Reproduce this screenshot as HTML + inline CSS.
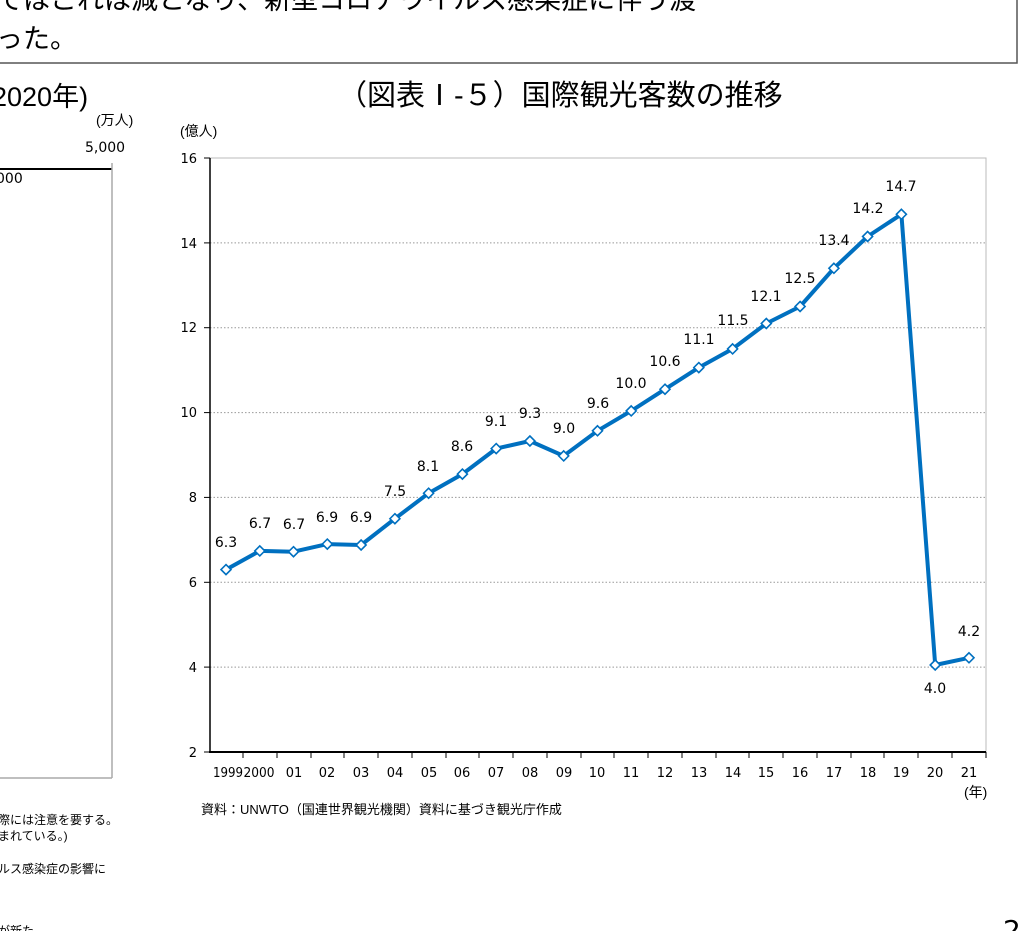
<!DOCTYPE html>
<html><head><meta charset="utf-8"><style>
html,body{margin:0;padding:0;background:#fff;width:1023px;height:931px;overflow:hidden}
svg{display:block}
text{font-family:"DejaVu Sans","Liberation Sans","Noto Sans CJK JP",sans-serif;fill:#000}
.j{font-family:"Liberation Sans","Noto Sans CJK JP",sans-serif}
</style></head><body>
<svg width="1023" height="931" viewBox="0 0 1023 931">
<rect x="-5" y="-5" width="1022" height="68" fill="none" stroke="#555" stroke-width="1.5"/>
<text class="j" x="-4" y="9" font-size="27">ではこれは減となり、新型コロナウイルス感染症に伴う渡</text>
<text class="j" x="-4" y="48" font-size="27">った。</text>
<text class="j" x="-8" y="106" font-size="27">2020年)</text>
<text class="j" x="96" y="125" font-size="14">(万人)</text>
<text x="85" y="152" font-size="14">5,000</text>
<text x="-4" y="183" font-size="14">000</text>
<line x1="0" y1="169" x2="112" y2="169" stroke="#000" stroke-width="2"/>
<line x1="112" y1="163" x2="112" y2="778" stroke="#aaa" stroke-width="1.5"/>
<line x1="0" y1="778" x2="112" y2="778" stroke="#aaa" stroke-width="1.5"/>
<text class="j" x="-2" y="824" font-size="12">際には注意を要する。</text>
<text class="j" x="-2" y="840" font-size="12">まれている。)</text>
<text class="j" x="-2" y="873" font-size="12">ルス感染症の影響に</text>
<text class="j" x="-2" y="935" font-size="12">が新た</text>
<text x="1003" y="940" font-size="28">2</text>
<text class="j" x="338" y="105" font-size="29">（図表Ⅰ-５）国際観光客数の推移</text>
<text class="j" x="180" y="136" font-size="14">(億人)</text>
<rect x="210" y="158" width="776" height="594" fill="none" stroke="#bbb" stroke-width="1"/>
<g stroke="#999" stroke-width="1" stroke-dasharray="1.5,2">
<line x1="210" y1="242.9" x2="986" y2="242.9"/>
<line x1="210" y1="327.7" x2="986" y2="327.7"/>
<line x1="210" y1="412.6" x2="986" y2="412.6"/>
<line x1="210" y1="497.4" x2="986" y2="497.4"/>
<line x1="210" y1="582.3" x2="986" y2="582.3"/>
<line x1="210" y1="667.1" x2="986" y2="667.1"/>
</g>
<line x1="210" y1="158" x2="210" y2="752" stroke="#000" stroke-width="1.5"/>
<line x1="209" y1="752" x2="986" y2="752" stroke="#000" stroke-width="2"/>
<g stroke="#000" stroke-width="1">
<line x1="204" y1="158" x2="210" y2="158"/><line x1="204" y1="242.9" x2="210" y2="242.9"/><line x1="204" y1="327.7" x2="210" y2="327.7"/><line x1="204" y1="412.6" x2="210" y2="412.6"/><line x1="204" y1="497.4" x2="210" y2="497.4"/><line x1="204" y1="582.3" x2="210" y2="582.3"/><line x1="204" y1="667.1" x2="210" y2="667.1"/><line x1="204" y1="752" x2="210" y2="752"/>
</g>
<g stroke="#000" stroke-width="1">
<line x1="243" y1="752" x2="243" y2="758"/><line x1="277" y1="752" x2="277" y2="758"/><line x1="311" y1="752" x2="311" y2="758"/><line x1="344" y1="752" x2="344" y2="758"/><line x1="378" y1="752" x2="378" y2="758"/><line x1="412" y1="752" x2="412" y2="758"/><line x1="446" y1="752" x2="446" y2="758"/><line x1="479" y1="752" x2="479" y2="758"/><line x1="513" y1="752" x2="513" y2="758"/><line x1="547" y1="752" x2="547" y2="758"/><line x1="581" y1="752" x2="581" y2="758"/><line x1="614" y1="752" x2="614" y2="758"/><line x1="648" y1="752" x2="648" y2="758"/><line x1="682" y1="752" x2="682" y2="758"/><line x1="716" y1="752" x2="716" y2="758"/><line x1="749" y1="752" x2="749" y2="758"/><line x1="783" y1="752" x2="783" y2="758"/><line x1="817" y1="752" x2="817" y2="758"/><line x1="851" y1="752" x2="851" y2="758"/><line x1="884" y1="752" x2="884" y2="758"/><line x1="918" y1="752" x2="918" y2="758"/><line x1="952" y1="752" x2="952" y2="758"/><line x1="986" y1="752" x2="986" y2="758"/>
</g>
<g font-size="13" text-anchor="end">
<text x="197" y="163">16</text><text x="197" y="248">14</text><text x="197" y="332">12</text><text x="197" y="417">10</text><text x="197" y="502">8</text><text x="197" y="587">6</text><text x="197" y="672">4</text><text x="197" y="757">2</text>
</g>
<g font-size="13" text-anchor="middle">
<text x="228" y="777" textLength="30" lengthAdjust="spacingAndGlyphs">1999</text><text x="259" y="777" textLength="31" lengthAdjust="spacingAndGlyphs">2000</text><text x="294" y="777">01</text><text x="327" y="777">02</text><text x="361" y="777">03</text><text x="395" y="777">04</text><text x="429" y="777">05</text><text x="462" y="777">06</text><text x="496" y="777">07</text><text x="530" y="777">08</text><text x="564" y="777">09</text><text x="597" y="777">10</text><text x="631" y="777">11</text><text x="665" y="777">12</text><text x="699" y="777">13</text><text x="733" y="777">14</text><text x="766" y="777">15</text><text x="800" y="777">16</text><text x="834" y="777">17</text><text x="868" y="777">18</text><text x="901" y="777">19</text><text x="935" y="777">20</text><text x="969" y="777">21</text>
</g>
<text class="j" x="964" y="797" font-size="14">(年)</text>
<text class="j" x="201" y="814" font-size="13">資料：UNWTO（国連世界観光機関）資料に基づき観光庁作成</text>
<polyline fill="none" stroke="#0070c0" stroke-width="4" stroke-linejoin="round" points="226,569.6 259.8,550.9 293.5,551.7 327.3,544.1 361.1,545 394.9,518.7 428.6,493.2 462.4,474.1 496.2,448.6 529.9,441 563.7,455.9 597.5,430.8 631.2,410.9 665,389.2 698.8,367.6 732.6,348.9 766.3,323.5 800.1,306.5 833.9,268.3 867.6,236.5 901.4,214.3 935.2,665 969,657.8"/>
<g fill="#fff" stroke="#0070c0" stroke-width="1.6">
<path d="M226,564.6l5,5l-5,5l-5,-5z"/><path d="M259.8,545.9l5,5l-5,5l-5,-5z"/><path d="M293.5,546.7l5,5l-5,5l-5,-5z"/><path d="M327.3,539.1l5,5l-5,5l-5,-5z"/><path d="M361.1,540l5,5l-5,5l-5,-5z"/><path d="M394.9,513.7l5,5l-5,5l-5,-5z"/><path d="M428.6,488.2l5,5l-5,5l-5,-5z"/><path d="M462.4,469.1l5,5l-5,5l-5,-5z"/><path d="M496.2,443.6l5,5l-5,5l-5,-5z"/><path d="M529.9,436l5,5l-5,5l-5,-5z"/><path d="M563.7,450.9l5,5l-5,5l-5,-5z"/><path d="M597.5,425.8l5,5l-5,5l-5,-5z"/><path d="M631.2,405.9l5,5l-5,5l-5,-5z"/><path d="M665,384.2l5,5l-5,5l-5,-5z"/><path d="M698.8,362.6l5,5l-5,5l-5,-5z"/><path d="M732.6,343.9l5,5l-5,5l-5,-5z"/><path d="M766.3,318.5l5,5l-5,5l-5,-5z"/><path d="M800.1,301.5l5,5l-5,5l-5,-5z"/><path d="M833.9,263.3l5,5l-5,5l-5,-5z"/><path d="M867.6,231.5l5,5l-5,5l-5,-5z"/><path d="M901.4,209.3l5,5l-5,5l-5,-5z"/><path d="M935.2,660l5,5l-5,5l-5,-5z"/><path d="M969,652.8l5,5l-5,5l-5,-5z"/>
</g>
<g font-size="14" text-anchor="middle">
<text x="226" y="547">6.3</text><text x="260" y="528">6.7</text><text x="294" y="529">6.7</text><text x="327" y="522">6.9</text><text x="361" y="522">6.9</text><text x="395" y="496">7.5</text><text x="428" y="471">8.1</text><text x="462" y="451">8.6</text><text x="496" y="426">9.1</text><text x="530" y="418">9.3</text><text x="564" y="433">9.0</text><text x="598" y="408">9.6</text><text x="631" y="388">10.0</text><text x="665" y="366">10.6</text><text x="699" y="344">11.1</text><text x="733" y="325">11.5</text><text x="766" y="301">12.1</text><text x="800" y="283">12.5</text><text x="834" y="245">13.4</text><text x="868" y="213">14.2</text><text x="901" y="191">14.7</text><text x="935" y="693">4.0</text><text x="969" y="636">4.2</text>
</g>
</svg>
</body></html>
